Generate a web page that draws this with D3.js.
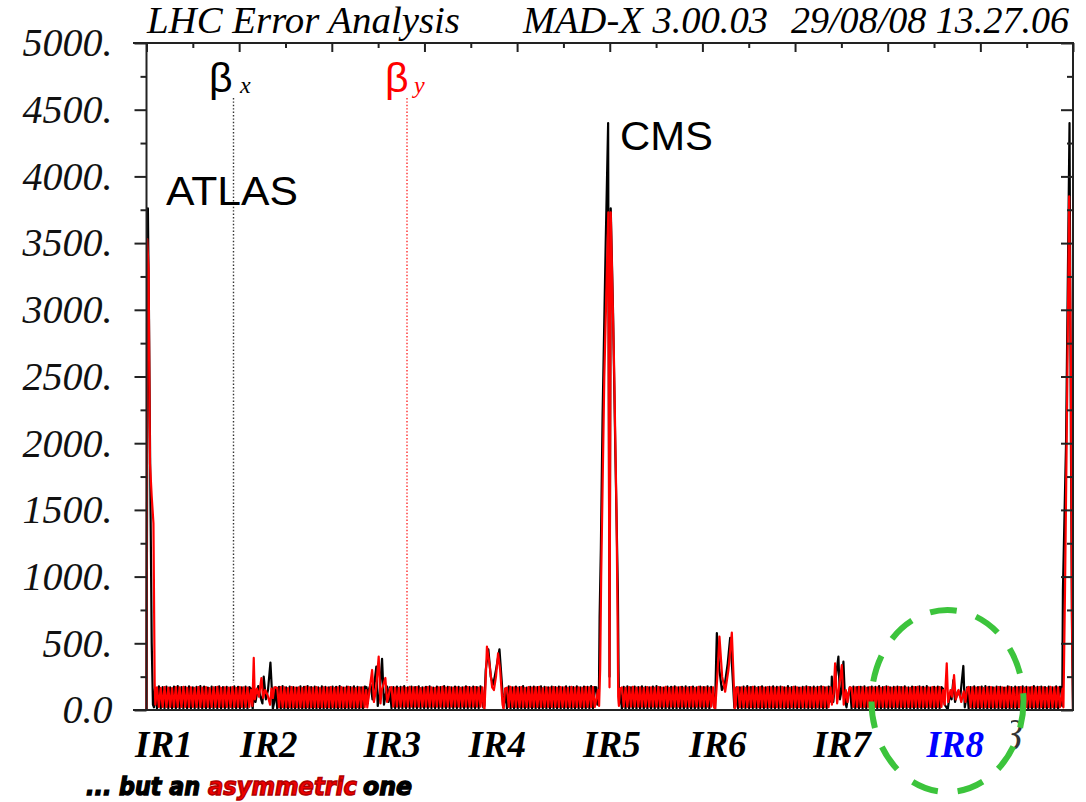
<!DOCTYPE html>
<html>
<head>
<meta charset="utf-8">
<script src="https://cdn.jsdelivr.net/npm/d3@7"></script>
<style>
  html, body { margin: 0; padding: 0; background: #fff; }
  svg { display: block; }
</style>
</head>
<body>
<svg id="chart" width="1086" height="802"></svg>
<script>
// ---- Ring geometry (metres along the machine, s = 0 at IP1) ----
const circumference = 26659;
const ipPositions = [0, 3336, 6663, 9996, 13323, 16644, 19972, 23265, 26659];

// ---- Axis values ----
const yTicks = [0, 500, 1000, 1500, 2000, 2500, 3000, 3500, 4000, 4500, 5000];
const yTickLabels = ["0.0", "500.", "1000.", "1500.", "2000.", "2500.", "3000.", "3500.", "4000.", "4500.", "5000."];
const irNames = ["IR1", "IR2", "IR3", "IR4", "IR5", "IR6", "IR7", "IR8"];
const irLabelPos = [500, 3520, 7070, 10090, 13390, 16440, 20010, 23270];
const irLabelColors = ["#000", "#000", "#000", "#000", "#000", "#000", "#000", "#0000ff"];

// ---- Insertion regions: [s - s_IP (m), beta (m)] ----
// index 0 = downstream half of IR1, 1..7 = IR2..IR8, 8 = upstream half of IR1
const insertionBetaX = [
  [[0,1],[40,3760],[70,3000],[110,1700],[150,500],[185,40],[215,20],[245,160]],
  [[-330,160],[-300,40],[-280,10],[-250,120],[-200,60],[-120,180],[-60,100],[0,50],[37,250],[100,80],[160,150],[230,355],[300,10],[340,60],[380,170]],
  [[-330,170],[-300,50],[-270,150],[-215,190],[-160,80],[-50,325],[-10,30],[40,100],[115,383],[170,40],[260,175],[300,60],[340,170]],
  [[-340,150],[-305,20],[-275,30],[-235,300],[-160,455],[-90,250],[-20,190],[60,300],[160,455],[230,200],[270,20],[300,60],[330,160]],
  [[-380,170],[-350,40],[-305,120],[-285,700],[-250,1200],[-200,2200],[-110,3500],[-40,4400],[0,250],[35,3760],[100,3000],[170,1900],[240,900],[260,300],[275,40],[310,160]],
  [[-350,150],[-320,30],[-285,10],[-255,350],[-233,577],[-160,300],[-89,150],[0,200],[80,350],[150,540],[210,300],[270,20],[300,40],[330,170]],
  [[-300,160],[-270,60],[-253,250],[-210,60],[-160,200],[-63,400],[-20,80],[30,150],[81,362],[130,60],[170,20],[220,120],[270,170]],
  [[-345,160],[-300,40],[-210,5],[-150,120],[-100,80],[-49,225],[0,60],[80,140],[150,100],[239,330],[280,20],[320,80],[345,170]],
  [[-330,170],[-310,30],[-290,900],[-200,2000],[-100,4400],[-60,2000],[-25,500],[0,1]]
];
const insertionBetaY = [
  [[0,1],[20,3530],[60,3300],[100,1850],[150,1600],[200,1400],[235,200],[255,40]],
  [[-330,150],[-290,30],[-250,390],[-220,80],[-160,160],[-100,100],[-29,240],[20,90],[80,150],[150,110],[220,40],[260,160],[300,90],[340,170]],
  [[-340,150],[-310,20],[-260,120],[-170,300],[-120,60],[-60,150],[18,400],[70,50],[105,150],[210,240],[260,60],[300,100],[340,160]],
  [[-330,170],[-300,30],[-270,10],[-240,200],[-200,475],[-130,350],[-50,170],[0,150],[60,250],[120,425],[180,300],[250,40],[280,10],[320,160]],
  [[-330,150],[-300,30],[-270,300],[-240,1000],[-150,2500],[-35,3730],[0,170],[35,3730],[130,2600],[200,1500],[235,600],[250,100],[270,30],[300,160]],
  [[-340,170],[-310,20],[-280,10],[-220,250],[-158,550],[-80,250],[6,137],[100,300],[198,580],[240,300],[280,10],[310,30],[330,160]],
  [[-290,170],[-250,40],[-200,120],[-158,350],[-100,50],[-40,180],[35,337],[90,40],[150,150],[200,60],[260,170]],
  [[-345,150],[-300,40],[-239,350],[-200,60],[-130,150],[-80,100],[-29,262],[20,80],[100,150],[180,60],[250,140],[300,60],[345,160]],
  [[-300,160],[-275,20],[-230,900],[-170,2300],[-110,3850],[-60,2600],[-30,700],[0,1]]
];

// ---- Arc FODO cells: beta maximum of every cell, one row per arc ----
const arcPeaksX = [
  [178,172,175,169,176,180,171,174,177,170,173,179,175,168,176,172,178,171,174,169,177,173,170,175,172],
  [174,179,170,176,172,168,177,173,180,171,175,169,178,174,170,176,173,179,168,175,171,177,174,170,176],
  [171,176,173,179,169,175,172,178,170,174,177,168,175,171,179,173,170,176,174,169,178,172,175,171,177],
  [177,170,175,172,179,168,174,176,171,178,173,170,176,172,175,169,178,174,171,177,170,175,173,179,172],
  [173,178,169,175,171,177,174,170,176,179,172,168,175,173,177,170,174,178,171,176,169,175,172,178,174],
  [170,175,179,172,176,171,178,169,174,177,173,175,170,179,172,176,168,174,177,171,175,173,178,170,176],
  [176,172,174,178,170,175,173,179,171,177,169,174,176,172,178,170,175,171,177,173,179,168,174,176,172],
  [172,177,171,175,179,173,170,176,174,168,178,172,175,171,177,174,170,179,173,176,172,175,169,177,174]
];
const arcPeaksY = [
  [170,166,172,168,165,171,169,173,167,170,166,172,168,171,165,169,173,167,170,168,172,166,171,169,168],
  [167,171,169,165,172,168,170,166,173,169,167,171,165,170,168,172,166,169,171,167,173,168,165,170,169],
  [172,168,166,170,167,173,169,171,165,168,172,170,166,169,173,167,171,168,170,166,169,172,167,171,168],
  [168,173,170,167,171,166,172,168,169,173,165,170,168,172,167,171,169,166,173,168,170,167,172,169,171],
  [169,167,171,173,168,170,166,172,169,167,171,168,173,166,170,169,172,167,168,171,166,173,169,170,167],
  [171,169,167,170,173,166,171,168,172,170,167,169,171,168,166,173,170,167,169,172,168,166,171,173,169],
  [166,170,173,169,167,172,168,170,166,171,173,167,169,172,170,168,166,171,173,169,167,170,172,168,171],
  [173,169,168,171,166,170,172,167,171,169,168,173,166,170,172,167,169,171,168,172,170,166,173,169,170]
];
const arcTroughX = [12, 10, 14, 11, 9, 13, 12, 10];
const arcTroughY = [24, 22, 26, 23, 25, 21, 24, 22];

// ---- Layout ----
const plot = { left: 146.5, right: 1073, top: 43, bottom: 710 };
const svg = d3.select("#chart");

const x = d3.scaleLinear().domain([0, circumference]).range([plot.left, plot.right]);
const y = d3.scaleLinear().domain([0, 5000]).range([plot.bottom, plot.top]);

// Assemble one optics function along the whole ring
function buildSeries(insertions, peaks, troughs, startsWithPeak) {
  const pts = [];
  for (let k = 0; k < insertions.length; k++) {
    insertions[k].forEach(([ds, b]) => pts.push([ipPositions[k] + ds, b]));
    if (k < peaks.length) {
      const a = ipPositions[k] + Math.max(d3.max(insertionBetaX[k], d => d[0]), d3.max(insertionBetaY[k], d => d[0])) + 20;
      const b = ipPositions[k + 1] + Math.min(d3.min(insertionBetaX[k + 1], d => d[0]), d3.min(insertionBetaY[k + 1], d => d[0])) - 20;
      const row = peaks[k];
      const h = (b - a) / (2 * row.length);
      row.forEach((pk, i) => {
        const s1 = a + (2 * i + 0.5) * h, s2 = a + (2 * i + 1.5) * h;
        if (startsWithPeak) { pts.push([s1, pk]); pts.push([s2, troughs[k]]); }
        else { pts.push([s1, troughs[k]]); pts.push([s2, pk]); }
      });
    }
  }
  return pts;
}

const betaX = buildSeries(insertionBetaX, arcPeaksX, arcTroughX, false);
const betaY = buildSeries(insertionBetaY, arcPeaksY, arcTroughY, true);

// ---- Title ----
const serif = "'Liberation Serif', 'Times New Roman', serif";
const sans = "'Liberation Sans', Arial, sans-serif";
svg.append("text").attr("x", 147).attr("y", 33)
  .attr("font-family", serif).attr("font-style", "italic").attr("font-size", 37)
  .attr("textLength", 313).attr("lengthAdjust", "spacingAndGlyphs")
  .text("LHC Error Analysis");
svg.append("text").attr("x", 523).attr("y", 33)
  .attr("font-family", serif).attr("font-style", "italic").attr("font-size", 37)
  .attr("textLength", 245).attr("lengthAdjust", "spacingAndGlyphs")
  .text("MAD-X 3.00.03");
svg.append("text").attr("x", 791).attr("y", 33)
  .attr("font-family", serif).attr("font-style", "italic").attr("font-size", 37)
  .attr("textLength", 278).attr("lengthAdjust", "spacingAndGlyphs")
  .text("29/08/08 13.27.06");

// ---- Curves ----
svg.append("defs").append("clipPath").attr("id", "plotClip")
  .append("rect").attr("x", plot.left - 2).attr("y", plot.top).attr("width", plot.right - plot.left + 3).attr("height", plot.bottom - plot.top + 1);

const line = d3.line().x(d => x(d[0])).y(d => y(d[1]));
const curves = svg.append("g").attr("clip-path", "url(#plotClip)");
curves.append("path").datum(betaX).attr("d", line)
  .attr("fill", "none").attr("stroke", "#000").attr("stroke-width", 2.2).attr("stroke-linejoin", "round");
curves.append("path").datum(betaY).attr("d", line)
  .attr("fill", "none").attr("stroke", "#ff0000").attr("stroke-width", 2.2).attr("stroke-linejoin", "round");

// ---- Axes ----
const axisColor = "#222";
const minorY = d3.range(250, 5000, 500);

const leftAxis = svg.append("g").attr("transform", `translate(${plot.left},0)`)
  .call(d3.axisLeft(y).tickValues(yTicks).tickSize(12).tickSizeOuter(0).tickPadding(22)
    .tickFormat((d, i) => yTickLabels[i]));
leftAxis.select(".domain").remove();
leftAxis.selectAll("line").attr("stroke", axisColor).attr("stroke-width", 2);
leftAxis.selectAll("text").attr("font-family", serif).attr("font-style", "italic")
  .attr("font-size", 40).attr("fill", "#111");
svg.append("g").attr("transform", `translate(${plot.left},0)`)
  .call(d3.axisLeft(y).tickValues(minorY).tickSize(6).tickFormat(""))
  .call(g => g.select(".domain").remove())
  .selectAll("line").attr("stroke", axisColor).attr("stroke-width", 2);

svg.append("g").attr("transform", `translate(${plot.right},0)`)
  .call(d3.axisLeft(y).tickValues(yTicks).tickSize(12).tickFormat(""))
  .call(g => g.select(".domain").remove())
  .selectAll("line").attr("x2", 0).attr("x1", -12).attr("stroke", axisColor).attr("stroke-width", 2);
svg.append("g").attr("transform", `translate(${plot.right},0)`)
  .call(d3.axisLeft(y).tickValues(minorY).tickSize(6).tickFormat(""))
  .call(g => g.select(".domain").remove())
  .selectAll("line").attr("x2", 0).attr("x1", -6).attr("stroke", axisColor).attr("stroke-width", 2);

const topTicks = d3.range(0, 21).map(i => i * circumference / 20);
svg.append("g").attr("transform", `translate(0,${plot.top})`)
  .call(d3.axisBottom(x).tickValues(topTicks).tickSizeOuter(0).tickFormat(""))
  .call(g => g.select(".domain").remove())
  .selectAll("line").attr("y2", (d, i) => i % 2 === 0 ? 9 : 5)
  .attr("stroke", axisColor).attr("stroke-width", 2);

// frame
const frame = svg.append("g").attr("stroke", axisColor).attr("stroke-width", 2);
frame.append("line").attr("x1", 133).attr("x2", plot.right + 1).attr("y1", plot.top).attr("y2", plot.top);
frame.append("line").attr("x1", 133).attr("x2", plot.right + 1).attr("y1", plot.bottom).attr("y2", plot.bottom);
frame.append("line").attr("x1", plot.left).attr("x2", plot.left).attr("y1", plot.top).attr("y2", plot.bottom);
frame.append("line").attr("x1", plot.right).attr("x2", plot.right).attr("y1", plot.top).attr("y2", plot.bottom);

// ---- IR labels ----
svg.append("g").selectAll("text").data(irNames).join("text")
  .attr("x", (d, i) => x(irLabelPos[i])).attr("y", 757)
  .attr("text-anchor", "middle")
  .attr("font-family", serif).attr("font-style", "italic").attr("font-weight", "bold")
  .attr("font-size", 37).attr("fill", (d, i) => irLabelColors[i])
  .text(d => d);

// ---- Legend ----
svg.append("line").attr("x1", 233.5).attr("x2", 233.5).attr("y1", 98).attr("y2", 683)
  .attr("stroke", "#333").attr("stroke-width", 1.4).attr("stroke-dasharray", "1.4 2");
svg.append("line").attr("x1", 407).attr("x2", 407).attr("y1", 98).attr("y2", 683)
  .attr("stroke", "#ff2a2a").attr("stroke-width", 1.4).attr("stroke-dasharray", "1.4 2");
svg.append("text").attr("x", 209).attr("y", 92).attr("font-family", sans).attr("font-size", 41)
  .attr("fill", "#000").text("β");
svg.append("text").attr("x", 240).attr("y", 93).attr("font-family", serif).attr("font-style", "italic")
  .attr("font-size", 24).attr("fill", "#000").text("x");
svg.append("text").attr("x", 385).attr("y", 92).attr("font-family", sans).attr("font-size", 41)
  .attr("fill", "#ff0000").text("β");
svg.append("text").attr("x", 414).attr("y", 93).attr("font-family", serif).attr("font-style", "italic")
  .attr("font-size", 24).attr("fill", "#ff0000").text("y");

// ---- Experiment labels ----
svg.append("text").attr("x", 166).attr("y", 205).attr("font-family", sans).attr("font-size", 40)
  .attr("textLength", 132).attr("lengthAdjust", "spacingAndGlyphs")
  .attr("fill", "#000").text("ATLAS");
svg.append("text").attr("x", 620).attr("y", 150).attr("font-family", sans).attr("font-size", 40)
  .attr("textLength", 93).attr("lengthAdjust", "spacingAndGlyphs")
  .attr("fill", "#000").text("CMS");

// partially covered beta near the right end
svg.select("defs").append("clipPath").attr("id", "betaClip")
  .append("rect").attr("x", 1011).attr("y", 715).attr("width", 40).attr("height", 45);
svg.append("text").attr("x", 1001).attr("y", 750).attr("clip-path", "url(#betaClip)")
  .attr("font-family", serif).attr("font-style", "italic").attr("font-size", 42)
  .attr("fill", "#333").text("β");

// ---- Highlight around IR8 ----
svg.append("ellipse").attr("cx", 947.5).attr("cy", 701).attr("rx", 76).attr("ry", 91)
  .attr("fill", "none").attr("stroke", "#3cc43c").attr("stroke-width", 6)
  .attr("stroke-dasharray", "27 20");

// ---- Footnote ----
const footStyle = g => g.attr("y", 795)
  .attr("font-family", "'DejaVu Sans', sans-serif").attr("font-style", "italic").attr("font-weight", "bold")
  .attr("font-size", 24).attr("stroke-width", 1.4).attr("lengthAdjust", "spacingAndGlyphs");
svg.append("text").call(footStyle).attr("x", 86).attr("textLength", 114)
  .attr("fill", "#000").attr("stroke", "#000").text("... but an");
svg.append("text").call(footStyle).attr("x", 208).attr("textLength", 149)
  .attr("fill", "#ee0000").attr("stroke", "#b00000").text("asymmetric");
svg.append("text").call(footStyle).attr("x", 363).attr("textLength", 49)
  .attr("fill", "#000").attr("stroke", "#000").text("one");
</script>
</body>
</html>
